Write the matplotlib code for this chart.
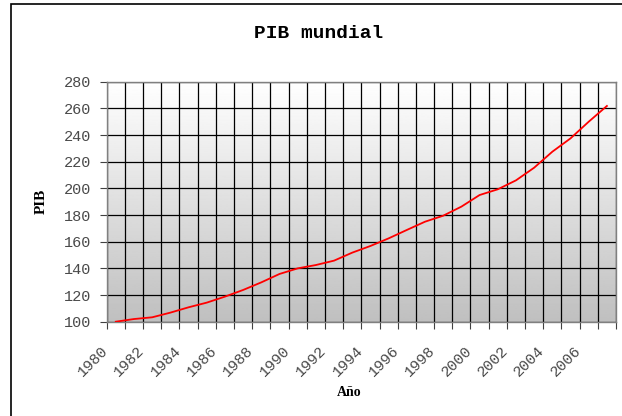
import numpy as np
import matplotlib
matplotlib.use("Agg")
import matplotlib.pyplot as plt
from matplotlib.patches import Rectangle
from matplotlib.transforms import ScaledTranslation

# === Data ===
years = list(range(1980, 2008))
pib = [100, 102, 103.3, 106.8, 110.8, 114.3, 118.8, 123.8, 129.5, 135.8,
       140, 142.5, 145.8, 151.8, 156.8, 162.5, 168.8, 175, 179.5, 186.3,
       195, 199.3, 206, 215.5, 227.5, 237.5, 250, 261.8]
yticks = list(range(100, 281, 20))
label_years = years[::2][:14]

W, H = 622, 416
fig = plt.figure(figsize=(W / 100, H / 100), dpi=100)
fig.patch.set_facecolor("white")

# outer chart border (left and top visible)
fig.add_artist(Rectangle((10.5 / W, -0.1), 1.2, 1 - 3.5 / H + 0.1,
                         transform=fig.transFigure, fill=False,
                         edgecolor="black", linewidth=1.2, clip_on=False))

# plot area
left, right, top, bottom = 106.7, 616, 81.7, 321.7
ax = fig.add_axes([left / W, 1 - bottom / H, (right - left) / W, (bottom - top) / H])

# gradient background
grad = np.linspace(1.0, 0.75, 256).reshape(-1, 1)
ax.imshow(grad, cmap="gray", vmin=0, vmax=1, aspect="auto",
          extent=[0, 1, 0, 1], transform=ax.transAxes, zorder=0)

x = np.arange(len(years))
ax.plot(x, pib, color="red", linewidth=1.3, zorder=3)

ax.set_xlim(-0.5, len(years) - 0.5)
ax.set_ylim(100, 280)

# y axis
ax.set_yticks(yticks)
ax.set_yticklabels([str(v) for v in yticks], fontfamily="Liberation Mono",
                   fontsize=11, color="#4a4a4a")
ax.tick_params(axis="y", direction="out", length=5, width=0.8, color="#404040", pad=6)
ax.grid(axis="y", color="black", linewidth=0.9, zorder=1)

# x axis: ticks at category boundaries, labels at every other category
ax.set_xticks(np.arange(len(years) + 1) - 0.5, minor=True)
ax.set_xticks(x[::2])
ax.set_xticklabels([str(y) for y in label_years], rotation=45, ha="right",
                   va="center", rotation_mode="anchor",
                   fontfamily="Liberation Mono", fontsize=11, color="#4a4a4a")
ax.tick_params(axis="x", which="major", length=0, pad=19)
ax.tick_params(axis="x", which="minor", direction="out", length=5, width=0.8,
               color="#404040")
ax.grid(axis="x", which="minor", color="black", linewidth=0.9, zorder=1)
offset = ScaledTranslation(-10 / 100, 0, fig.dpi_scale_trans)
for lab in ax.get_xticklabels():
    lab.set_transform(lab.get_transform() + offset)

for s in ax.spines.values():
    s.set_color("#808080")
    s.set_linewidth(1.0)
ax.set_axisbelow(True)

# titles
fig.text(319 / W, 1 - 33 / H, "PIB mundial", ha="center", va="center",
         fontfamily="Liberation Mono", fontweight="bold", fontsize=14)
fig.text(349 / W, 1 - 393 / H, "Año", ha="center", va="center",
         fontfamily="Liberation Serif", fontweight="bold", fontsize=10)
fig.text(41.7 / W, 1 - 201 / H, "PIB", ha="center", va="center", rotation=90,
         fontfamily="Liberation Serif", fontweight="bold", fontsize=11)

fig.savefig("out.png", dpi=100)
